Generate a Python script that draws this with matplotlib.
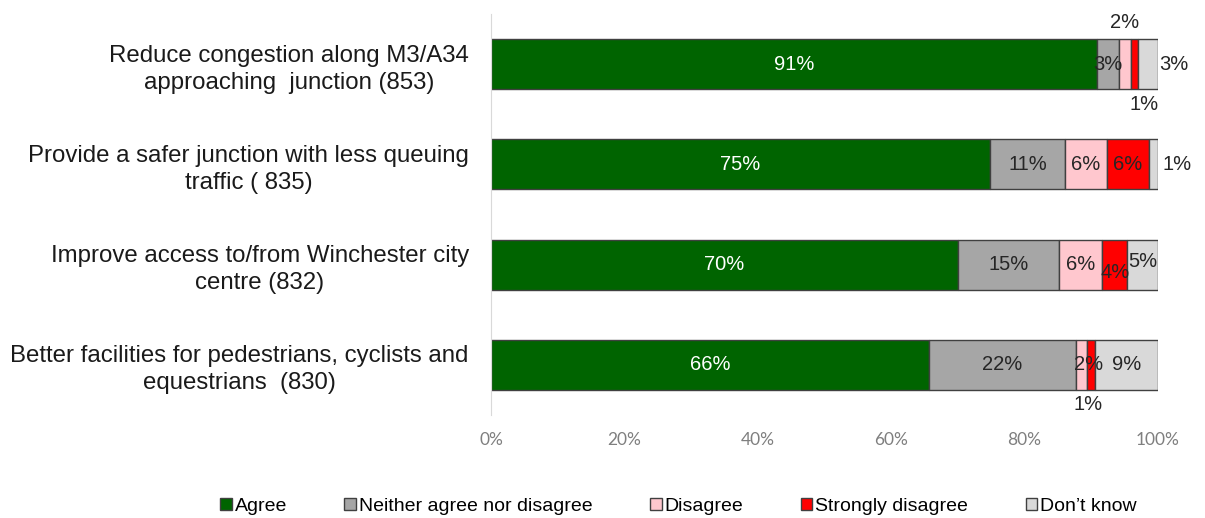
import matplotlib
matplotlib.use("Agg")
import matplotlib.pyplot as plt
import numpy as np

# ── Data ───────────────────────────────────────────────
categories = [
    "Reduce congestion along M3/A34\napproaching  junction (853)",
    "Provide a safer junction with less queuing\ntraffic ( 835)",
    "Improve access to/from Winchester city\ncentre (832)",
    "Better facilities for pedestrians, cyclists and\nequestrians  (830)",
]
series_names = ["Agree", "Neither agree nor disagree", "Disagree",
                "Strongly disagree", "Don\u2019t know"]
agree     = [90.8, 74.8, 70.0, 65.7]
neither   = [3.3, 11.3, 15.2, 22.0]
disagree  = [1.8, 6.2, 6.4, 1.7]
strongly  = [1.1, 6.3, 3.8, 1.2]
dont_know = [3.0, 1.4, 4.6, 9.4]

colors = ["#006400", "#A6A6A6", "#FFC7CE", "#FF0000", "#D9D9D9"]
text_colors = ["white", "#262626", "#262626", "#262626", "#262626"]

# label offsets for the small segments: (row, series) -> (dx in %, dy in rows)
label_shift = {
    (0, 2): (0.0, -0.42),
    (0, 3): (1.5, 0.40),
    (0, 4): (2.4, 0.0),
    (1, 4): (2.9, 0.0),
    (2, 3): (0.0, 0.08),
    (2, 4): (0.0, -0.03),
    (3, 2): (1.0, 0.0),
    (3, 3): (-0.5, 0.40),
}
# don't-know labels that sit to the right of the bar end
outside_right = {(0, 4), (1, 4)}

# ── Figure ─────────────────────────────────────────────
fig = plt.figure(figsize=(12.05, 5.18), dpi=100)
ax = fig.add_axes([0.4075, 0.199, 0.5535, 0.774])

values = np.array([agree, neither, disagree, strongly, dont_know])
y = np.arange(len(categories))
left = np.zeros(len(categories))

for s, (name, vals) in enumerate(zip(series_names, values)):
    ax.barh(y, vals, left=left, height=0.5, color=colors[s],
            edgecolor="#404040", linewidth=1.0, label=name)
    for i, v in enumerate(vals):
        dx, dy = label_shift.get((i, s), (0.0, 0.0))
        if (i, s) in outside_right:
            xc = left[i] + v + dx
        else:
            xc = left[i] + v / 2 + dx
        ax.text(xc, y[i] + dy, f"{v:.0f}%", ha="center", va="center",
                fontsize=14.5, color=text_colors[s], family="Liberation Sans")
    left += vals

ax.set_xlim(0, 100)
ax.set_ylim(3.5, -0.5)
ax.set_xticks(np.arange(0, 101, 20))
ax.set_xticklabels([f"{t}%" for t in range(0, 101, 20)],
                   fontsize=12.5, color="#7F7F7F", family="Lato")
ax.tick_params(axis="x", length=0, pad=12)
ax.tick_params(axis="y", length=0, pad=16)
ax.set_yticks(y)
ax.set_yticklabels(categories, fontsize=17.3, color="#1A1A1A",
                   family="Liberation Sans", ha="right",
                   multialignment="center", linespacing=1.3)

for side in ["top", "right", "bottom"]:
    ax.spines[side].set_visible(False)
ax.spines["left"].set_color("#D9D9D9")

leg = fig.legend(loc="center", bbox_to_anchor=(0.563, 0.022), ncol=5,
                 frameon=False, handlelength=0.6, handleheight=0.6,
                 handletextpad=0.15, columnspacing=2.95,
                 prop={"family": "Liberation Sans", "size": 14})
for h in leg.legend_handles:
    h.set_edgecolor("#404040")

fig.savefig("out.png", dpi=100)
plt.close(fig)
